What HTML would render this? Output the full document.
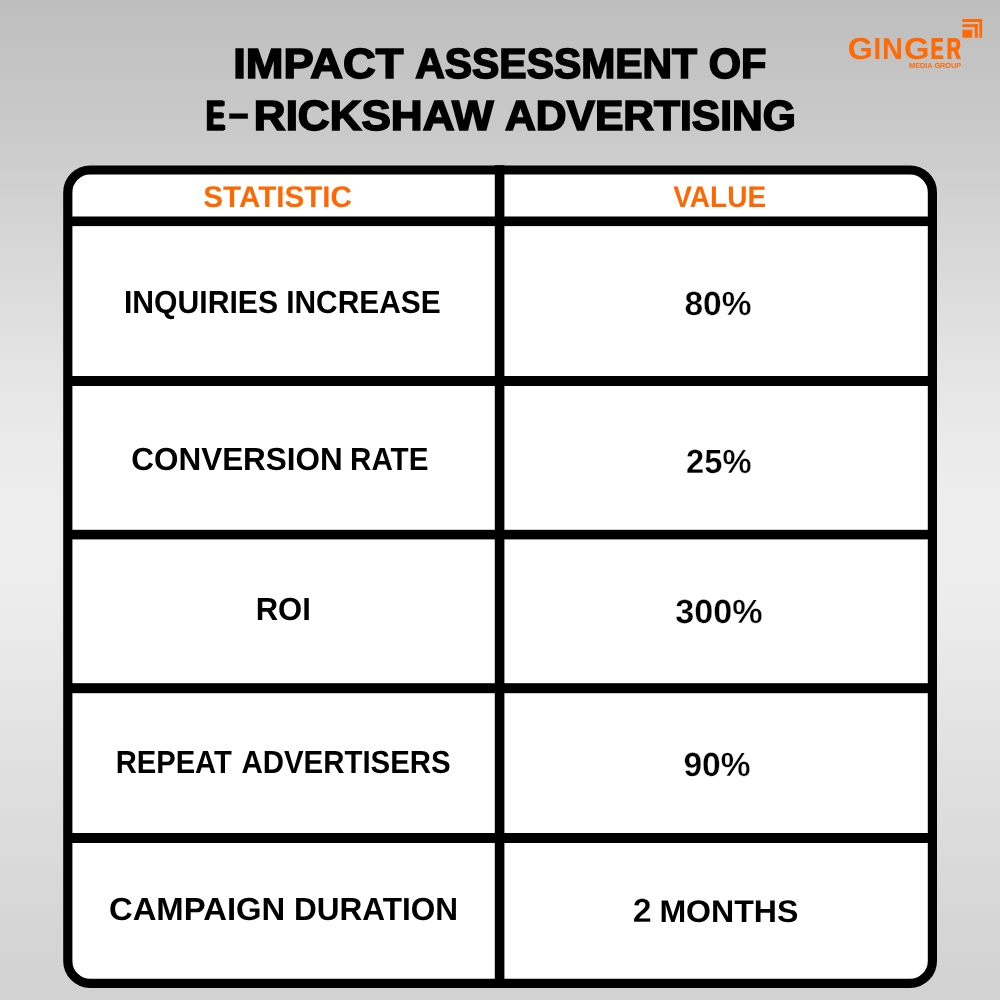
<!DOCTYPE html>
<html lang="en">
<head>
<meta charset="utf-8">
<title>Impact Assessment of E-Rickshaw Advertising</title>
<style>
  html, body { margin: 0; padding: 0; }
  body {
    width: 1000px; height: 1000px; overflow: hidden; position: relative;
    background: linear-gradient(to bottom, rgb(190,190,190) 0px, rgb(201.5,201.5,201.5) 130px, rgb(215.5,215.5,215.5) 250px, rgb(228.2,228.2,228.2) 370px, rgb(234.2,234.2,234.2) 440px, rgb(237,237,237) 500px, rgb(237,237,237) 560px, rgb(235.5,235.5,235.5) 610px, rgb(225,225,225) 750px, rgb(216.5,216.5,216.5) 880px, rgb(209.5,209.5,209.5) 1000px);
    font-family: "Liberation Sans", sans-serif;
  }
  h1, table, tr, th, td, p { margin: 0; padding: 0; font: inherit; }
  main { position: absolute; left: 0; top: 0; width: 1000px; height: 1000px; transform: translateZ(0); }
  .abs { position: absolute; }
  .t { position: absolute; left: 0; display: block; white-space: nowrap; font-weight: bold; line-height: 1; color: #000; transform-origin: 0 0; text-rendering: geometricPrecision; }
  .title { color: #000; -webkit-text-stroke: 1.65px #000; }
  .hy { -webkit-text-stroke: 0.3px #000; }
  .e { text-shadow: 1px 0 0 #000, 2px 0 0 #000, 3px 0 0 #000; }
  .vv { -webkit-text-stroke: 0.3px #fff; }
  .hd { color: #ff6703; }
  .lg { color: #ff6a05; }
  .ls { text-shadow: 1px 0 0 #ff6a05, 1.6px 0 0 #ff6a05; }
  #frame { left: 0; top: 0; }
  #icon { left: 955px; top: 12px; width: 35px; height: 32px; }
</style>
</head>
<body>
<main>

<!-- Logo -->
<div><span class="t lg" id="g1a" style="top:35px;font-size:30.3px;transform:translateX(847.67px) scaleX(1.0657)">G</span><span class="t lg ls" id="g1b" style="top:35px;font-size:30.3px;transform:translateX(873.99px) scaleX(0.6743)">I</span><span class="t lg" id="g1c" style="top:35px;font-size:30.3px;transform:translateX(881.95px) scaleX(0.9557)">N</span><span class="t lg" id="g1d" style="top:35px;font-size:30.3px;transform:translateX(903.97px) scaleX(1.0829)">G</span><span class="t lg ls" id="g1e" style="top:35px;font-size:30.3px;transform:translateX(930.20px) scaleX(0.6345)">E</span><span class="t lg ls" id="g1f" style="top:35px;font-size:30.3px;transform:translateX(946.15px) scaleX(0.6457)">R</span> <span class="t lg" id="g2" style="top:62px;font-size:7.4px;transform:translateX(909.10px) scaleX(0.9884)">MEDIA GROUP</span></div>
<svg class="abs" id="icon" viewBox="955 12 35 32" aria-hidden="true">
  <g fill="#ff6a05">
    <rect x="962.4" y="19" width="19.7" height="3"/>
    <rect x="979.4" y="19" width="2.7" height="18.7"/>
    <rect x="962.4" y="24.2" width="15.4" height="2.9"/>
    <rect x="974.8" y="24.2" width="3" height="13.5"/>
    <rect x="962.4" y="29.8" width="9.8" height="7.9"/>
  </g>
</svg>

<!-- Title -->
<h1>
  <span class="t title" id="t1a" style="top:43px;font-size:42.0px;transform:translateX(233.28px) scaleX(1.0772)">IMPACT</span> <span class="t title" id="t1b" style="top:43px;font-size:42.0px;transform:translateX(415.25px) scaleX(0.9739)">ASSESSMENT</span> <span class="t title" id="t1c" style="top:43px;font-size:42.0px;transform:translateX(708.63px) scaleX(0.9881)">OF</span>
  <span class="t title e" id="t2a" style="top:95px;font-size:42.0px;transform:translateX(205.40px) scaleX(0.6731)">E</span><span class="t title hy" id="t2b" style="top:92px;font-size:42.0px;transform:translateX(226.85px) scaleX(1.6984)">-</span><span class="t title" id="t2c" style="top:95px;font-size:42.0px;transform:translateX(253.83px) scaleX(1.0485)">RICKSHAW</span> <span class="t title" id="t2d" style="top:95px;font-size:42.0px;transform:translateX(505.04px) scaleX(1.0135)">ADVERTISING</span>
</h1>

<!-- Table frame -->
<svg class="abs" id="frame" viewBox="0 0 1000 1000" width="1000" height="1000" aria-hidden="true">
  <rect x="67.8" y="170" width="864.6" height="813.4" rx="22.4" ry="22.4" fill="#ffffff" stroke="#000000" stroke-width="9.2"/>
  <g fill="#000000">
    <rect x="494.8" y="165.2" width="9.6" height="820"/>
    <rect x="66" y="216.5" width="868" height="9.6"/>
    <rect x="66" y="376" width="868" height="10"/>
    <rect x="66" y="529.8" width="868" height="9.6"/>
    <rect x="66" y="683.2" width="868" height="10"/>
    <rect x="66" y="833" width="868" height="10"/>
  </g>
</svg>

<!-- Header -->
<div><span class="t hd" id="h1" style="top:183px;font-size:29.9px;transform:translateX(203.36px) scaleX(0.9896)">STATISTIC</span> <span class="t hd" id="h2" style="top:183px;font-size:29.9px;transform:translateX(673.18px) scaleX(0.9375)">VALUE</span></div>

<!-- Rows -->
<div><span class="t lb" id="l1a" style="top:287px;font-size:31.9px;transform:translateX(123.98px) scaleX(0.9450)">INQUIRIES</span> <span class="t lb" id="l1b" style="top:287px;font-size:31.9px;transform:translateX(286.22px) scaleX(0.9374)">INCREASE</span> <span class="t vv" id="v1" style="top:288px;font-size:33.5px;transform:translateX(684.48px) scaleX(0.9992)">80%</span></div>
<div><span class="t lb" id="l2a" style="top:444px;font-size:31.9px;transform:translateX(131.28px) scaleX(0.9861)">CONVERSION</span> <span class="t lb" id="l2b" style="top:444px;font-size:31.9px;transform:translateX(350.08px) scaleX(0.9275)">RATE</span> <span class="t vv" id="v2" style="top:446px;font-size:33.5px;transform:translateX(686.08px) scaleX(0.9754)">25%</span></div>
<div><span class="t lb" id="l3" style="top:594px;font-size:31.9px;transform:translateX(255.66px) scaleX(0.9725)">ROI</span> <span class="t vv" id="v3" style="top:596px;font-size:33.5px;transform:translateX(675.32px) scaleX(1.0196)">300%</span></div>
<div><span class="t lb" id="l4a" style="top:747px;font-size:31.9px;transform:translateX(115.66px) scaleX(0.9150)">REPEAT</span> <span class="t lb" id="l4b" style="top:747px;font-size:31.9px;transform:translateX(241.41px) scaleX(0.9229)">ADVERTISERS</span> <span class="t vv" id="v4" style="top:749px;font-size:33.5px;transform:translateX(683.47px) scaleX(1.0010)">90%</span></div>
<div><span class="t lb" id="l5a" style="top:894px;font-size:31.9px;transform:translateX(108.96px) scaleX(1.0294)">CAMPAIGN</span> <span class="t lb" id="l5b" style="top:894px;font-size:31.9px;transform:translateX(293.89px) scaleX(0.9892)">DURATION</span> <span class="t vv" id="v5a" style="top:895px;font-size:33.5px;transform:translateX(632.65px) scaleX(1.0159)">2</span> <span class="t lb" id="v5b" style="top:896px;font-size:31.3px;transform:translateX(659.40px) scaleX(1.0250)">MONTHS</span></div>

</main>
</body>
</html>
